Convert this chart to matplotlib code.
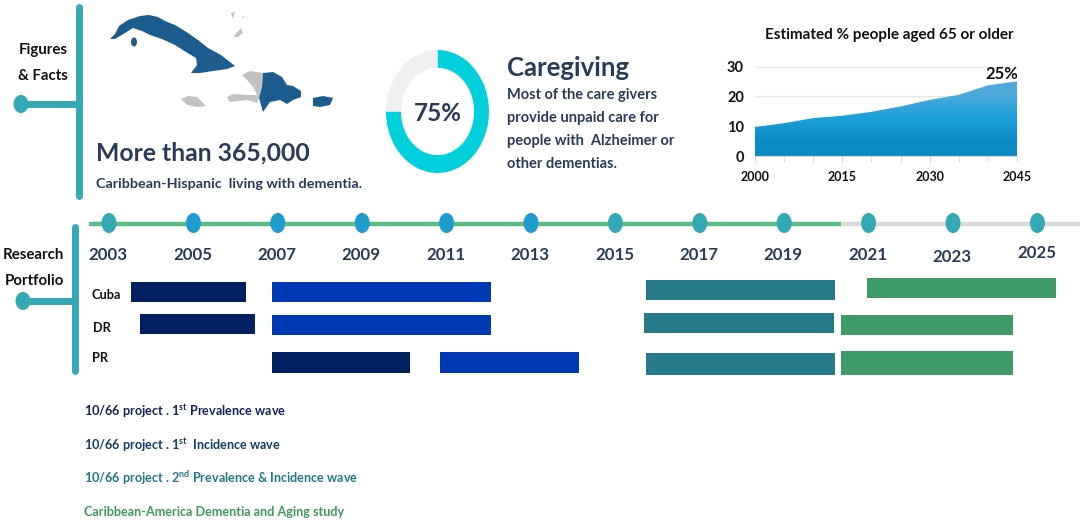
import matplotlib
matplotlib.use('Agg')
import matplotlib.pyplot as plt
from matplotlib.colors import LinearSegmentedColormap
from matplotlib.patches import Ellipse, Polygon

plt.rcParams['font.family'] = ['Lato', 'DejaVu Sans']
plt.rcParams['mathtext.default'] = 'regular'

# DATA
area_years = [2000, 2005, 2010, 2015, 2020, 2025, 2030, 2035, 2040, 2045]
area_pct = [9.7, 11.0, 12.7, 13.5, 14.8, 16.6, 18.8, 20.5, 23.7, 25.0]
area_ticks = [2000, 2015, 2030, 2045]
pct_ticks = [0, 10, 20, 30]

donut_values = [75, 25]

tl_years = [2003, 2005, 2007, 2009, 2011, 2013, 2015, 2017, 2019, 2021, 2023, 2025]
countries = ['Cuba', 'DR', 'PR']

# (start year, end year) per country, per project wave
wave1_prev = [(2003.52, 2006.25), (2003.73, 2006.46), (2006.86, 2010.13)]
wave1_inc = [(2006.86, 2012.05), (2006.86, 2012.05), (2010.84, 2014.14)]
wave2 = [(2015.73, 2020.2), (2015.68, 2020.18), (2015.73, 2020.2)]
cadas = [(2020.96, 2025.44), (2020.35, 2024.42), (2020.35, 2024.42)]

legend_labels = ['10/66 project . 1$^{st}$ Prevalence wave',
                 '10/66 project . 1$^{st}$  Incidence wave',
                 '10/66 project . 2$^{nd}$ Prevalence & Incidence wave',
                 'Caribbean-America Dementia and Aging study']

# map outlines (pixels)
cuba = [(110, 39), (115, 34), (119, 26), (128, 20), (140, 16), (149, 15), (158, 17), (165, 21),
        (175, 25), (188, 33), (198, 40), (208, 48), (221, 55), (235, 66), (227, 69), (213, 71),
        (200, 73), (191, 73), (197, 65), (196, 58), (186, 52), (175, 45), (162, 39), (150, 35),
        (142, 31), (133, 28), (125, 33), (115, 39)]
dom_rep = [(263, 73), (273, 72), (282, 77), (287, 85), (293, 86), (301, 91), (301, 97), (293, 100),
           (287, 104), (280, 100), (270, 102), (263, 112), (259, 98), (262, 87)]
haiti = [(242, 75), (250, 71), (263, 73), (262, 87), (259, 98), (257, 103), (247, 100), (230, 102),
         (227, 97), (233, 94), (247, 95), (257, 95), (253, 87), (247, 80)]
jamaica = [(181, 99), (188, 96), (197, 97), (206, 106), (197, 107), (187, 105)]
puerto_rico = [(313, 98), (323, 96), (333, 98), (330, 105), (320, 107), (313, 106)]
bahamas = [[(233, 37), (241, 28), (243, 33), (238, 37)],
           [(231, 13), (235, 12), (233, 19)],
           [(242, 16), (245, 17), (243, 18)]]

# COLOURS
TEAL = '#35a8b5'
NAVY = '#2a3b59'
MAPBLUE = '#1d5c8f'
MAPGREY = '#c2c2c2'

fig = plt.figure(figsize=(10.84, 5.25), dpi=100)

# page layer, in pixels
ax = fig.add_axes([0, 0, 1, 1])
ax.set_xlim(0, 1084)
ax.set_ylim(525, 0)
ax.axis('off')


def stem(x, y0, y1, ybranch, xdot):
    ax.plot([x, x], [y0, y1], color=TEAL, lw=5, solid_capstyle='round')
    ax.plot([xdot, x], [ybranch, ybranch], color=TEAL, lw=5, solid_capstyle='butt')
    ax.add_patch(Ellipse((xdot, ybranch), 15, 18, color=TEAL, lw=0))


stem(79, 7, 196, 104, 21)
stem(75, 227, 371, 301, 23)

ax.text(43, 50, 'Figures', fontsize=10.8, fontweight='bold', ha='center', va='center', color='#111111')
ax.text(43, 76, '& Facts', fontsize=10.8, fontweight='bold', ha='center', va='center', color='#111111')
ax.text(33, 255, 'Research', fontsize=10.8, fontweight='bold', ha='center', va='center', color='#111111')
ax.text(34, 281, 'Portfolio', fontsize=10.8, fontweight='bold', ha='center', va='center', color='#111111')

# map
for shape in [haiti, jamaica] + bahamas:
    ax.add_patch(Polygon(shape, closed=True, fc=MAPGREY, ec='none'))
for shape in [cuba, dom_rep, puerto_rico]:
    ax.add_patch(Polygon(shape, closed=True, fc=MAPBLUE, ec='none'))
ax.add_patch(Ellipse((134, 42), 6, 9, color=MAPBLUE, lw=0))

ax.text(96, 153, 'More than 365,000', fontsize=17.8, fontweight='bold', color=NAVY,
        ha='left', va='center')
ax.text(96, 184, 'Caribbean-Hispanic  living with dementia.', fontsize=10.35, fontweight='bold',
        color=NAVY, ha='left', va='center')

# caregiving text
ax.text(507, 68, 'Caregiving', fontsize=18.5, fontweight='bold', color=NAVY, ha='left', va='center')
for i, line in enumerate(['Most of the care givers', 'provide unpaid care for',
                          'people with  Alzheimer or', 'other dementias.']):
    ax.text(507, 95 + i * 23, line, fontsize=10.5, fontweight='bold', color=NAVY,
            ha='left', va='center')

# donut
ax_d = fig.add_axes([386 / 1084, 1 - 173 / 525, 103 / 1084, 123 / 525])
ax_d.pie(donut_values, startangle=90, counterclock=False, colors=['#00d0dc', '#f0f0f0'],
         radius=1.0, wedgeprops=dict(width=0.29))
ax_d.set_aspect('auto')
ax_d.set_xlim(-1, 1)
ax_d.set_ylim(-1, 1)
ax_d.text(0, -0.04, '75%', fontsize=17.5, fontweight='bold', color=NAVY, ha='center', va='center')

# area chart
ax_a = fig.add_axes([755 / 1084, 1 - 156 / 525, 262 / 1084, 89.5 / 525])
poly = ax_a.fill_between(area_years, area_pct, 0, color='none')
grad = ax_a.imshow([[0.0], [0.5], [1.0]], extent=[2000, 2045, 0, 25], aspect='auto', origin='upper',
                   interpolation='bilinear',
                   cmap=LinearSegmentedColormap.from_list('area', ['#4ea9da', '#1ba0da', '#0d8ac2']),
                   zorder=2)
grad.set_clip_path(poly.get_paths()[0], transform=ax_a.transData)
ax_a.set_xlim(2000, 2045)
ax_a.set_ylim(0, 30)
ax_a.set_yticks(pct_ticks)
ax_a.set_xticks(area_ticks)
ax_a.set_xticks(area_years, minor=True)
ax_a.grid(axis='y', color='#e8e8e8', lw=1)
ax_a.set_axisbelow(True)
for s in ['top', 'right', 'left']:
    ax_a.spines[s].set_visible(False)
ax_a.spines['bottom'].set_color('#d8d8d8')
ax_a.tick_params(axis='y', length=0, pad=8, labelsize=10.5)
ax_a.tick_params(axis='x', which='major', length=4, color='#d8d8d8', pad=7, labelsize=9)
ax_a.tick_params(axis='x', which='minor', length=4, color='#d8d8d8')
for t in ax_a.get_xticklabels() + ax_a.get_yticklabels():
    t.set_fontweight('bold')
    t.set_color('#111111')
ax_a.text(2045.2, 24.8, '25%', fontsize=12, fontweight='bold', color='#111111', ha='right', va='bottom',
          clip_on=False)
fig.text(889 / 1084, 1 - 35 / 525, 'Estimated % people aged 65 or older', fontsize=11,
         fontweight='bold', color='#111111', ha='center', va='center')

# timeline layer: x in years, y in pixels
px_per_year = 42.2
ax_t = fig.add_axes([0, 0, 1, 1], facecolor='none')
ax_t.set_xlim(2003 - 109 / px_per_year, 2003 + (1084 - 109) / px_per_year)
ax_t.set_ylim(525, 0)
ax_t.axis('off')


def yr(px):
    return 2003 + (px - 109) / px_per_year


ax_t.plot([yr(841), yr(1080)], [224, 224], color='#d9d9d9', lw=3.2, solid_capstyle='butt', zorder=1)
ax_t.plot([yr(89), yr(841)], [224, 224], color='#5dbb84', lw=3.2, solid_capstyle='butt', zorder=2)

label_y = [255] * 10 + [257, 253]
for y, ly in zip(tl_years, label_y):
    col = TEAL if y == 2003 or y >= 2015 else '#1f9bcf'
    ax_t.add_patch(Ellipse((y, 223), 15 / px_per_year, 20, color=col, lw=0, zorder=3))
    ax_t.text(y - 0.02, ly, str(y), fontsize=12.2, fontweight='bold', color=NAVY, ha='center', va='center')

teal_y = [(280, 300), (313, 333), (353, 375)]
green_y = [(278, 298), (315, 335), (351, 375)]
for i, name in enumerate(countries):
    ax.text([92, 93, 92][i], [295, 328, 358][i], name, fontsize=9.2, fontweight='bold',
            color='#111111', ha='left', va='center')
    rows = [(wave1_prev, '#00205f', [(282, 302), (314, 334), (352, 373)][i]),
            (wave1_inc, '#0039b3', [(282, 302), (315, 335), (352, 373)][i]),
            (wave2, '#277a88', teal_y[i]),
            (cadas, '#3e9a66', green_y[i])]
    for spans, col, (top, bottom) in rows:
        start, end = spans[i]
        ax_t.barh((top + bottom) / 2, end - start, height=bottom - top, left=start, color=col, lw=0)

legend_colors = ['#14245f', '#123f66', '#1f7a88', '#3c9a5c']
for i, (lab, col) in enumerate(zip(legend_labels, legend_colors)):
    ax.text(84, [411, 445, 478, 512][i], lab, fontsize=9.1, fontweight='bold', color=col,
            ha='left', va='center')

fig.savefig('out.png', dpi=100)
